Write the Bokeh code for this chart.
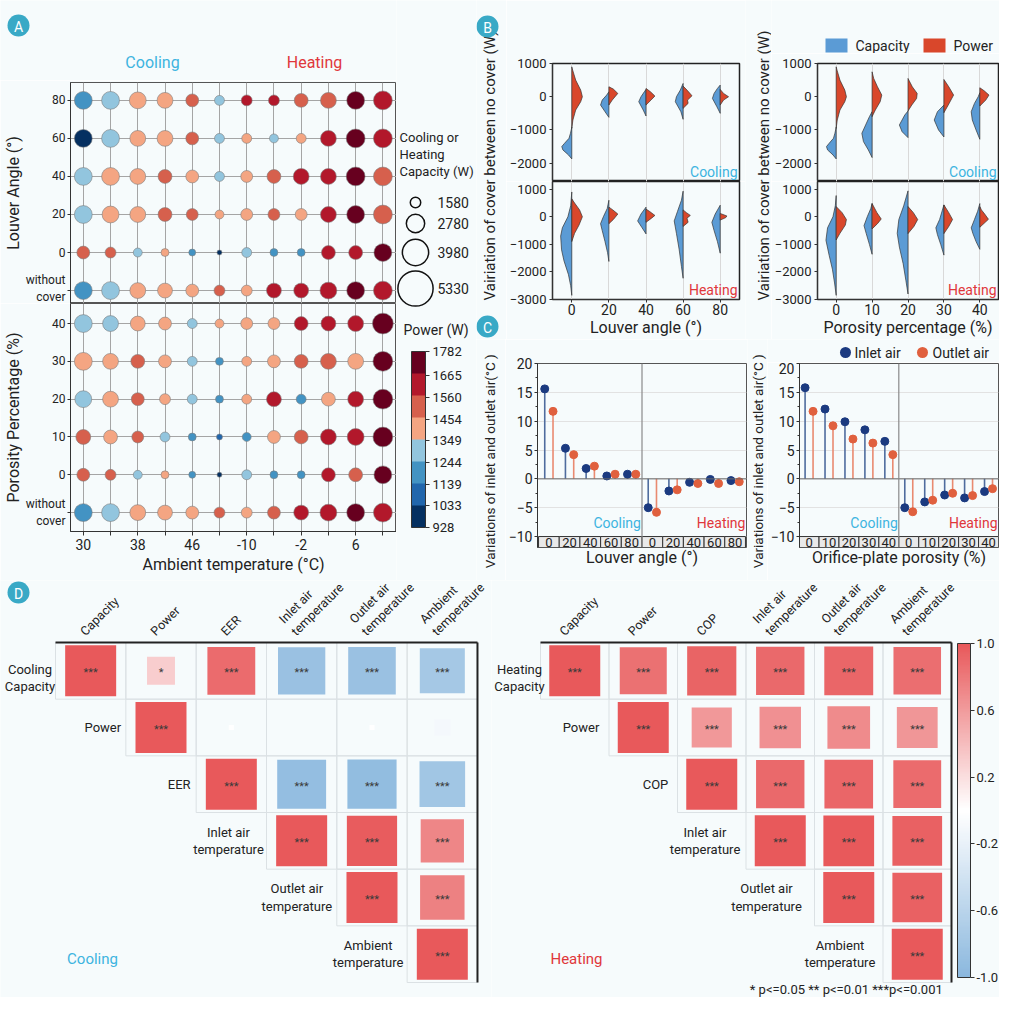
import math
from bokeh.plotting import figure
from bokeh.layouts import row, column
from bokeh.models import (Range1d, FixedTicker, ColorBar, LinearColorMapper,
                          LinearInterpolator, PrintfTickFormatter, Span, SingleIntervalTicker,
                          ColumnDataSource)
from bokeh.transform import transform
from bokeh.core.properties import value
from bokeh.embed import file_html
from bokeh.resources import INLINE

# ============================ DATA ============================
# ---- Panel A (bubble matrix) ----
ambient_ticks = ["30", "", "38", "", "46", "", "-10", "", "-2", "", "6", ""]
louver_rows = ["80", "60", "40", "20", "0", "without\ncover"]
porosity_rows = ["40", "30", "20", "10", "0", "without\ncover"]

louver_capacity = [
    [2700, 2700, 2550, 2400, 1950, 1500, 1650, 1650, 2100, 2400, 2700, 2850],
    [2700, 2700, 2400, 2400, 1950, 1500, 1500, 1350, 1500, 2400, 2850, 2850],
    [2700, 2700, 2400, 2100, 1950, 1500, 1800, 2100, 2400, 2400, 2850, 2850],
    [2700, 2550, 2400, 2100, 1800, 1350, 1800, 1800, 1800, 2400, 2700, 2850],
    [1950, 1650, 1350, 1200, 1050, 750, 1500, 1200, 1200, 2100, 2100, 2700],
    [2700, 2700, 2400, 2250, 1950, 1650, 1650, 2250, 2250, 2550, 2700, 2850],
]
louver_power = [
    [1185, 1290, 1395, 1410, 1500, 1300, 1620, 1615, 1510, 1495, 1715, 1605],
    [975, 1285, 1400, 1405, 1505, 1295, 1400, 1290, 1398, 1610, 1725, 1618],
    [1290, 1402, 1398, 1510, 1395, 1300, 1405, 1505, 1612, 1608, 1730, 1502],
    [1295, 1400, 1396, 1512, 1500, 1401, 1398, 1508, 1402, 1610, 1722, 1505],
    [1508, 1505, 1290, 1402, 1192, 985, 1292, 1188, 1190, 1615, 1610, 1718],
    [1188, 1292, 1398, 1404, 1400, 1506, 1395, 1612, 1610, 1615, 1720, 1608],
]
porosity_capacity = [
    [2700, 2400, 2250, 1950, 1500, 1350, 1800, 1800, 2100, 2250, 2400, 3150],
    [2700, 2400, 2100, 1950, 1500, 1200, 1500, 1950, 2100, 2400, 2400, 3000],
    [2550, 2400, 1950, 1650, 1500, 1200, 1500, 2250, 1500, 2100, 2400, 3000],
    [2250, 2100, 1800, 1500, 1200, 900, 1350, 1950, 2100, 2400, 2550, 3000],
    [1950, 1650, 1350, 1200, 1050, 750, 1500, 1200, 1200, 2100, 2100, 2700],
    [2700, 2700, 2400, 2250, 1950, 1650, 1650, 1950, 2250, 2550, 2700, 2850],
]
porosity_power = [
    [1295, 1290, 1400, 1402, 1296, 1398, 1404, 1400, 1610, 1612, 1608, 1722],
    [1400, 1405, 1505, 1398, 1294, 1190, 1402, 1400, 1508, 1506, 1398, 1725],
    [1292, 1403, 1505, 1401, 1296, 1188, 1399, 1612, 1190, 1401, 1610, 1728],
    [1507, 1400, 1504, 1298, 1192, 1086, 1190, 1402, 1506, 1612, 1615, 1730],
    [1508, 1505, 1290, 1402, 1192, 985, 1292, 1188, 1190, 1615, 1505, 1718],
    [1188, 1292, 1398, 1404, 1400, 1506, 1395, 1508, 1610, 1615, 1720, 1608],
]
size_legend_values = [1580, 2780, 3980, 5330]
power_ticks = [928, 1033, 1139, 1244, 1349, 1454, 1560, 1665, 1782]
power_palette = ["#053061", "#2166ac", "#4393c3", "#92c5de", "#f4a582", "#d6604d", "#b2182b", "#67001f"]

# ---- Panel B (split violins: (value, relative density) outline knots) ----
louver_labels = ["0", "20", "40", "60", "80"]
porosity_labels = ["0", "10", "20", "30", "40"]

louver_cool_cap = [
    [(-1870, 0), (-1750, 0.3), (-1600, 0.8), (-1500, 0.9), (-1400, 0.65), (-1250, 0.25), (-1100, 0.12), (-920, 0)],
    [(-620, 0), (-450, 0.35), (-250, 0.75), (-100, 0.6), (50, 0.2), (150, 0)],
    [(-580, 0), (-400, 0.25), (-150, 0.65), (0, 0.45), (150, 0.15), (220, 0)],
    [(-680, 0), (-450, 0.2), (-150, 0.7), (0, 0.6), (200, 0.25), (400, 0)],
    [(-500, 0), (-300, 0.3), (-50, 0.7), (100, 0.55), (250, 0.25), (350, 0)],
]
louver_cool_pow = [
    [(-950, 0), (-700, 0.1), (-400, 0.35), (-150, 0.8), (0, 0.95), (200, 0.8), (500, 0.35), (800, 0.08), (900, 0)],
    [(-250, 0), (-100, 0.3), (100, 0.8), (230, 0.4), (300, 0)],
    [(-250, 0), (-100, 0.45), (20, 0.8), (150, 0.4), (250, 0)],
    [(-350, 0), (-200, 0.45), (-100, 0.4), (30, 0.8), (200, 0.35), (320, 0)],
    [(-250, 0), (-100, 0.3), (0, 0.75), (100, 0.3), (220, 0)],
]
louver_heat_cap = [
    [(-2850, 0), (-2500, 0.1), (-2100, 0.3), (-1600, 0.7), (-1200, 0.92), (-700, 1.0), (-400, 0.85), (0, 0.35), (400, 0.1), (900, 0)],
    [(-1620, 0), (-1300, 0.12), (-900, 0.35), (-500, 0.6), (-250, 0.75), (0, 0.5), (300, 0.15), (600, 0)],
    [(-620, 0), (-400, 0.35), (-150, 0.75), (100, 0.45), (350, 0)],
    [(-2230, 0), (-1800, 0.15), (-1200, 0.35), (-600, 0.6), (-150, 0.8), (200, 0.5), (600, 0.15), (930, 0)],
    [(-1320, 0), (-900, 0.25), (-500, 0.55), (-200, 0.75), (100, 0.45), (420, 0)],
]
louver_heat_pow = [
    [(-900, 0), (-600, 0.25), (-300, 0.65), (0, 0.95), (250, 0.7), (500, 0.25), (650, 0)],
    [(-250, 0), (-100, 0.4), (100, 0.8), (250, 0.35), (350, 0)],
    [(-200, 0), (-50, 0.5), (50, 0.8), (200, 0.3), (280, 0)],
    [(-350, 0), (-200, 0.45), (-50, 0.35), (50, 0.65), (150, 0.3), (250, 0)],
    [(-120, 0), (-30, 0.5), (30, 0.6), (120, 0)],
]
por_cool_cap = [
    [(-1870, 0), (-1750, 0.3), (-1600, 0.8), (-1500, 0.9), (-1400, 0.65), (-1250, 0.25), (-1100, 0.12), (-920, 0)],
    [(-1830, 0), (-1600, 0.35), (-1350, 0.8), (-1100, 0.95), (-850, 0.6), (-600, 0.25), (-450, 0)],
    [(-1230, 0), (-1050, 0.55), (-850, 0.8), (-700, 0.55), (-550, 0.3), (-430, 0)],
    [(-1210, 0), (-1000, 0.5), (-700, 0.9), (-450, 0.6), (-250, 0)],
    [(-1280, 0), (-1000, 0.35), (-700, 0.7), (-450, 0.8), (-200, 0.5), (0, 0.15), (120, 0)],
]
por_cool_pow = [
    [(-950, 0), (-700, 0.1), (-400, 0.35), (-150, 0.8), (0, 0.95), (200, 0.8), (500, 0.35), (800, 0.08), (900, 0)],
    [(-600, 0), (-400, 0.3), (-150, 0.75), (50, 0.9), (300, 0.5), (550, 0.15), (750, 0)],
    [(-430, 0), (-250, 0.35), (-50, 0.8), (100, 0.85), (300, 0.4), (550, 0)],
    [(-480, 0), (-250, 0.4), (50, 0.9), (300, 0.45), (520, 0)],
    [(-280, 0), (-100, 0.55), (50, 0.85), (180, 0.4), (270, 0)],
]
por_heat_cap = [
    [(-2850, 0), (-2400, 0.15), (-1900, 0.35), (-1400, 0.65), (-850, 0.95), (-400, 0.8), (0, 0.3), (400, 0.08), (770, 0)],
    [(-1360, 0), (-1000, 0.25), (-600, 0.55), (-320, 0.75), (0, 0.45), (300, 0.12), (480, 0)],
    [(-2800, 0), (-2300, 0.2), (-1700, 0.45), (-1100, 0.8), (-600, 1.0), (-100, 0.85), (400, 0.4), (940, 0)],
    [(-1390, 0), (-1000, 0.3), (-650, 0.6), (-400, 0.75), (-100, 0.4), (430, 0)],
    [(-1180, 0), (-900, 0.35), (-600, 0.65), (-400, 0.8), (-100, 0.5), (200, 0.2), (480, 0)],
]
por_heat_pow = [
    [(-840, 0), (-600, 0.35), (-300, 0.85), (-100, 0.95), (150, 0.55), (370, 0)],
    [(-440, 0), (-250, 0.5), (-80, 0.85), (150, 0.45), (480, 0)],
    [(-610, 0), (-350, 0.55), (-100, 0.9), (150, 0.5), (370, 0)],
    [(-610, 0), (-350, 0.45), (-100, 0.8), (150, 0.45), (430, 0)],
    [(-380, 0), (-200, 0.5), (-90, 0.8), (100, 0.45), (250, 0.15), (370, 0)],
]
violin_legend = ["Capacity", "Power"]

# ---- Panel C (lollipops) ----
louver_strip = ["0", "20", "40", "60", "80", "0", "20", "40", "60", "80"]
porosity_strip = ["0", "10", "20", "30", "40", "0", "10", "20", "30", "40"]
louver_inlet = [15.6, 5.3, 1.8, 0.5, 0.8, -5.0, -2.1, -0.6, -0.1, -0.3]
louver_outlet = [11.7, 4.2, 2.2, 0.8, 0.8, -5.8, -1.9, -0.8, -0.8, -0.5]
porosity_inlet = [15.8, 12.1, 9.9, 8.5, 6.5, -5.0, -4.0, -2.8, -3.3, -2.2]
porosity_outlet = [11.7, 9.2, 6.9, 6.2, 4.2, -5.7, -3.7, -2.5, -2.9, -1.7]
stem_legend = ["Inlet air", "Outlet air"]

# ---- Panel D (correlation matrices, upper triangles) ----
cool_cols = ["Capacity", "Power", "EER", "Inlet air\ntemperature", "Outlet air\ntemperature", "Ambient\ntemperature"]
cool_rows = ["Cooling\nCapacity", "Power", "EER", "Inlet air\ntemperature", "Outlet air\ntemperature", "Ambient\ntemperature"]
heat_cols = ["Capacity", "Power", "COP", "Inlet air\ntemperature", "Outlet air\ntemperature", "Ambient\ntemperature"]
heat_rows = ["Heating\nCapacity", "Power", "COP", "Inlet air\ntemperature", "Outlet air\ntemperature", "Ambient\ntemperature"]
cool_r = [[1.0, 0.30, 0.88, -0.86, -0.87, -0.78],
          [1.0, -0.01, 0.0, 0.01, -0.10],
          [1.0, -0.92, -0.93, -0.80],
          [1.0, 0.97, 0.72],
          [1.0, 0.76],
          [1.0]]
cool_sig = [["***", "*", "***", "***", "***", "***"],
            ["***", "", "", "", ""],
            ["***", "***", "***", "***"],
            ["***", "***", "***"],
            ["***", "***"],
            ["***"]]
heat_r = [[1.0, 0.85, 0.93, 0.90, 0.92, 0.87],
          [1.0, 0.62, 0.66, 0.70, 0.64],
          [1.0, 0.90, 0.91, 0.88],
          [1.0, 0.99, 0.95],
          [1.0, 0.95],
          [1.0]]
heat_sig = [["***"] * 6, ["***"] * 5, ["***"] * 4, ["***"] * 3, ["***"] * 2, ["***"]]
corr_ticks = [-1.0, -0.6, -0.2, 0.2, 0.6, 1.0]

# ============================ STYLE ============================
FONT = "Roboto"
BG = "#f6fbfc"
CYAN = "#3db4e0"
REDT = "#e0373b"
BADGE = "#39a9c6"
CAP_C = "#5b9bd5"
POW_C = "#d9472b"
INLET_DOT, INLET_STEM = "#1b3a80", "#4f6c9e"
OUTLET_DOT, OUTLET_STEM = "#e0603e", "#e98a70"

SIZE_MAP = LinearInterpolator(x=[0, 5330], y=[0, 35.2])
POWER_MAP = LinearColorMapper(palette=power_palette, low=power_ticks[0], high=power_ticks[-1])


def _mix(c1, c2, t):
    return "#%02x%02x%02x" % tuple(int(round(a + (b - a) * t)) for a, b in zip(c1, c2))


_blue, _white, _red = (139, 184, 222), (255, 255, 255), (232, 89, 91)
corr_palette = [_mix(_blue, _white, i / 63) for i in range(64)] + [_mix(_white, _red, i / 63) for i in range(64)]
CORR_MAP = LinearColorMapper(palette=corr_palette, low=-1, high=1)


def make_fig(w, h, xr, yr, l=0, r=0, t=0, b=0, axes=True):
    kw = {} if axes else dict(x_axis_location=None, y_axis_location=None)
    p = figure(width=w, height=h, x_range=xr, y_range=yr, output_backend="svg",
               toolbar_location=None, min_border=0, min_border_left=l, min_border_right=r,
               min_border_top=t, min_border_bottom=b, background_fill_color=BG,
               border_fill_color=BG, **kw)
    if not axes:
        p.grid.visible = False
        p.outline_line_color = None
    return p


def canvas(w, h):
    return make_fig(w, h, Range1d(0, w), Range1d(h, 0), axes=False)


def iso(p):
    # wrap a single plot so that siblings do not get their frames aligned
    return column(p)


def txt(p, x, y, s, size=14, color="#222222", align="center", baseline="middle", angle=0.0, **kw):
    p.text(x=[x], y=[y], text=[s], text_font=value(FONT), text_font_size=f"{size}px",
           text_color=color, text_align=align, text_baseline=baseline, angle=angle, **kw)


def badge(p, x, y, letter):
    p.scatter([x], [y], size=22, marker="circle", fill_color=BADGE, line_color=None)
    txt(p, x, y, letter, 14, "white", y_offset=1)


def style_axis(ax, tick="14px", lab="16px"):
    ax.major_label_text_font = FONT
    ax.major_label_text_font_size = tick
    ax.major_label_text_color = "#222222"
    ax.axis_label_text_font = FONT
    ax.axis_label_text_font_size = lab
    ax.axis_label_text_font_style = "normal"
    ax.axis_label_text_color = "#222222"
    ax.axis_line_color = "#333333"
    ax.major_tick_line_color = "#333333"
    ax.minor_tick_line_color = None
    ax.major_tick_in = 0
    ax.major_tick_out = 3
    ax.major_label_standoff = 3
    ax.axis_label_standoff = 2


# ============================ PANEL A ============================
def bubble_data(caps, pows):
    xs, ys, cs, ps = [], [], [], []
    for ri, (cr, pr) in enumerate(zip(caps, pows)):
        for ci, (c, pw) in enumerate(zip(cr, pr)):
            xs.append(ci); ys.append(5 - ri); cs.append(c); ps.append(pw)
    return ColumnDataSource(dict(x=xs, y=ys, cap=cs, power=ps))


hdrA = canvas(396, 80)
badge(hdrA, 18, 25, "A")
txt(hdrA, 152, 62, "Cooling", 16, CYAN)
txt(hdrA, 314, 62, "Heating", 16, REDT)

XA = Range1d(-0.47, 11.5)


def bubble_fig(h, yr, rows, caps, pows, t, b, bottom_axis, ylabel):
    p = make_fig(396, h, XA, yr, l=66, t=t, b=b)
    p.yaxis.ticker = FixedTicker(ticks=list(range(6)))
    p.yaxis.major_label_overrides = {5 - i: s for i, s in enumerate(rows)}
    style_axis(p.yaxis, "12px", "16px")
    p.yaxis.major_label_standoff = 2
    p.yaxis.axis_label_standoff = 0
    p.yaxis.axis_label = ylabel
    p.xgrid.ticker = FixedTicker(ticks=list(range(12)))
    p.ygrid.ticker = FixedTicker(ticks=list(range(6)))
    p.grid.grid_line_color = "#a5a5a5"
    p.outline_line_color = "#555555"
    if bottom_axis:
        p.xaxis.ticker = FixedTicker(ticks=list(range(12)))
        p.xaxis.major_label_overrides = {i: s for i, s in enumerate(ambient_ticks)}
        p.xaxis.axis_label = "Ambient temperature (°C)"
        style_axis(p.xaxis, "14px", "16px")
        p.xaxis.major_tick_out = 4
    else:
        p.xaxis.visible = False
    p.scatter("x", "y", source=bubble_data(caps, pows), size=transform("cap", SIZE_MAP),
              fill_color=transform("power", POWER_MAP), line_color="#7d7d7d", line_width=0.6)
    return p


pA1 = bubble_fig(223, Range1d(-0.34, 5.47), louver_rows, louver_capacity, louver_power, 2, 0, False,
                 "Louver Angle (°)")
pA2 = bubble_fig(277, Range1d(-0.5, 5.53), porosity_rows, porosity_capacity, porosity_power, 0, 49, True,
                 "Porosity Percentage (%)")

# size legend + colour bar (x from 396 to 476)
legA = canvas(80, 580)
txt(legA, 3, 129, "Cooling or\nHeating\nCapacity (W)", 13, align="left", baseline="top", text_line_height=1.15)
leg_y = [202, 223, 252, 288]
legA.scatter("x", "y", size=transform("cap", SIZE_MAP), fill_color=None,
             line_color="#111111", line_width=1.5,
             source=ColumnDataSource(dict(x=[19] * 4, y=leg_y, cap=size_legend_values)))
legA.text(x=[41] * 4, y=leg_y, text=[str(v) for v in size_legend_values], text_font=value(FONT),
          text_font_size="14px", text_color="#222222", text_align="left", text_baseline="middle")
txt(legA, 7, 329, "Power (W)", 14, align="left")
cbA = ColorBar(color_mapper=POWER_MAP, ticker=FixedTicker(ticks=power_ticks), width=14, height=176,
               location=(15, 53), padding=0, margin=0, orientation="vertical",
               major_label_text_font=FONT, major_label_text_font_size="13px",
               major_label_text_color="#222222", major_tick_in=0, major_tick_out=4,
               major_tick_line_color="#333333", bar_line_color="#333333", label_standoff=3,
               background_fill_alpha=0, border_line_color=None)
legA.add_layout(cbA, "center")

# ============================ PANEL B ============================
VW = 0.3


def add_violins(p, cap_list, pow_list):
    cx, cy, px_, py_ = [], [], [], []
    for i, (cap, pw) in enumerate(zip(cap_list, pow_list)):
        cx.append([i - d * VW for v, d in cap]); cy.append([v for v, d in cap])
        px_.append([i + d * VW for v, d in pw]); py_.append([v for v, d in pw])
    p.patches(cx, cy, fill_color=CAP_C, line_color="#333333", line_width=0.7)
    p.patches(px_, py_, fill_color=POW_C, line_color="#333333", line_width=0.7)


def violin_fig(w, h, xr, yr, ticks, l, r, t, b, labels=None, xlabel=None):
    p = make_fig(w, h, xr, yr, l=l, r=r, t=t, b=b)
    p.yaxis.ticker = FixedTicker(ticks=ticks)
    style_axis(p.yaxis, "13px")
    p.xgrid.ticker = FixedTicker(ticks=list(range(5)))
    p.xgrid.grid_line_color = "#d9d9d9"
    p.ygrid.visible = False
    p.outline_line_color = "#222222"
    p.outline_line_width = 1.5
    if labels is None:
        p.xaxis.visible = False
    else:
        p.xaxis.ticker = FixedTicker(ticks=list(range(5)))
        p.xaxis.major_label_overrides = {i: s for i, s in enumerate(labels)}
        p.xaxis.axis_label = xlabel
        style_axis(p.xaxis, "14px", "16px")
        p.xaxis.major_label_standoff = 1
        p.xaxis.axis_label_standoff = 0
    return p


XB1 = Range1d(-0.52, 4.52)
XB2 = Range1d(-0.52, 4.52)
pB1t = violin_fig(239, 181, XB1, Range1d(-2550, 1000), [-2000, -1000, 0, 1000], 41, 6, 63, 0)
pB1b = violin_fig(239, 158, XB1, Range1d(-3000, 1280), [-3000, -2000, -1000, 0, 1000], 41, 6, 0, 40,
                  louver_labels, "Louver angle (°)")
pB2t = violin_fig(228, 128, XB2, Range1d(-2550, 1000), [-2000, -1000, 0, 1000], 42, 1, 10, 0)
pB2b = violin_fig(228, 158, XB2, Range1d(-3000, 1280), [-3000, -2000, -1000, 0, 1000], 42, 1, 0, 40,
                  porosity_labels, "Porosity percentage (%)")
add_violins(pB1t, louver_cool_cap, louver_cool_pow)
add_violins(pB1b, louver_heat_cap, louver_heat_pow)
add_violins(pB2t, por_cool_cap, por_cool_pow)
add_violins(pB2b, por_heat_cap, por_heat_pow)
for p in (pB1t, pB2t):
    txt(p, 4.52, -2550, "Cooling", 14, CYAN, align="right", baseline="bottom", x_offset=-2, y_offset=-2)
for p in (pB1b, pB2b):
    txt(p, 4.52, -3000, "Heating", 14, REDT, align="right", baseline="bottom", x_offset=-2, y_offset=-2)

# legend strip above the right-hand violins (x 771..999, y 0..53)
hdrB2 = canvas(228, 53)
hdrB2.rect(x=[65, 163], y=[45, 45], width=22, height=14, width_units="screen", height_units="screen",
           fill_color=[CAP_C, POW_C], line_color=None)
hdrB2.text(x=[84, 182], y=[45, 45], text=violin_legend, text_font=value(FONT), text_font_size="14px",
           text_color="#222222", text_align="left", text_baseline="middle")

yB1 = canvas(30, 339)
txt(yB1, 13, 165, "Vairiation of cover between no cover (W)", 15, angle=math.pi / 2)
badge(yB1, 11, 26, "B")
badge(yB1, 11, 326, "C")
yB2 = canvas(26, 339)
txt(yB2, 18, 165, "Vairiation of cover between no cover (W)", 15, angle=math.pi / 2)

# ============================ PANEL C ============================
def stem_fig(w, h, t, xr, inlet, outlet, strip, xlabel):
    p = make_fig(w, h, xr, Range1d(-11.9, 20), l=26, r=1, t=t, b=33)
    p.yaxis.ticker = SingleIntervalTicker(interval=5, num_minor_ticks=2)
    style_axis(p.yaxis, "14px")
    p.yaxis.major_label_standoff = 2
    p.yaxis.minor_tick_line_color = "#333333"
    p.yaxis.minor_tick_in = 0
    p.yaxis.minor_tick_out = 2
    p.ygrid.grid_line_color = "#e2e2e2"
    p.xgrid.visible = False
    p.outline_line_color = "#555555"
    style_axis(p.xaxis, "14px", "16px")
    p.xaxis.ticker = FixedTicker(ticks=[])
    p.xaxis.axis_line_color = None
    p.xaxis.major_tick_out = 0
    p.xaxis.major_label_standoff = 0
    p.xaxis.axis_label_standoff = 0
    p.xaxis.axis_label = xlabel
    idx = list(range(len(inlet)))
    p.add_layout(Span(location=0, dimension="width", line_color="#666666", line_width=1))
    p.add_layout(Span(location=4.5, dimension="height", line_color="#8a8a8a", line_width=1.2))
    xi = [i - 0.2 for i in idx]
    xo = [i + 0.2 for i in idx]
    p.segment(x0=xi, y0=[0] * len(idx), x1=xi, y1=inlet, line_color=INLET_STEM, line_width=1.6)
    p.segment(x0=xo, y0=[0] * len(idx), x1=xo, y1=outlet, line_color=OUTLET_STEM, line_width=1.6)
    p.scatter(xi, inlet, size=8, marker="circle", fill_color=INLET_DOT, line_color=INLET_DOT)
    p.scatter(xo, outlet, size=8, marker="circle", fill_color=OUTLET_DOT, line_color=OUTLET_DOT)
    p.rect(x=idx, y=[-10.95] * len(idx), width=1, height=1.9, fill_color="#e9e9e9",
           line_color="#333333", line_width=1)
    p.text(x=idx, y=[-10.95] * len(idx), text=strip, text_font=value(FONT), text_font_size="13px",
           text_color="#222222", text_align="center", text_baseline="middle")
    txt(p, 4.45, -7.7, "Cooling", 14, CYAN, align="right")
    txt(p, xr.end - 0.05, -7.7, "Heating", 14, REDT, align="right")
    return p


pC1 = stem_fig(242, 241, 24, Range1d(-0.55, 9.55), louver_inlet, louver_outlet, louver_strip,
               "Louver angle (°)")
pC2 = stem_fig(232, 218, 1, Range1d(-0.48, 9.5), porosity_inlet, porosity_outlet, porosity_strip,
               "Orifice-plate porosity (%)")

hdrC2 = canvas(232, 23)
hdrC2.scatter([78, 155], [13, 13], size=11, marker="circle", fill_color=[INLET_DOT, OUTLET_DOT],
              line_color=None)
hdrC2.text(x=[87, 165], y=[13, 13], text=stem_legend, text_font=value(FONT), text_font_size="14px",
           text_color="#222222", text_align="left", text_baseline="middle")

yC1 = canvas(29, 241)
txt(yC1, 13, 120, "Variations of inlet  and outlet air(°C )", 13.5, angle=math.pi / 2)
yC2 = canvas(20, 241)
txt(yC2, 10, 120, "Variations of inlet  and outlet air(°C )", 13.5, angle=math.pi / 2)

# ============================ PANEL D ============================
def corr_fig(w, left_px, x0px, cellw, cols, rows, rvals, sig, row_off, col_xoff, mode, mode_color, mode_px):
    def dx(px):
        return (px - x0px) / cellw

    def dy(py):
        return (py - 642) / 56.67

    p = make_fig(w, 417, Range1d(dx(left_px), dx(left_px + w)), Range1d(dy(997), dy(580)), axes=False)
    cx, cy, rr, side, st = [], [], [], [], []
    for ri_, rowv in enumerate(rvals):
        for k, v in enumerate(rowv):
            c = ri_ + k
            cx.append(c + 0.5); cy.append(ri_ + 0.5); rr.append(v)
            side.append(51 * math.sqrt(abs(v))); st.append(sig[ri_][k])
    p.rect(x=cx, y=cy, width=1, height=1, fill_color=None, line_color="#dbe1e4", line_width=1)
    src = ColumnDataSource(dict(x=cx, y=cy, r=rr, side=side, sig=st))
    p.scatter("x", "y", source=src, marker="square", size="side",
              fill_color=transform("r", CORR_MAP), line_color=None)
    p.text("x", "y", text="sig", source=src, text_font=value(FONT), text_font_size="11px",
           text_color="#3a3a3a", text_align="center", text_baseline="middle", y_offset=2)
    p.line([0, 6], [0, 0], line_color="#222222", line_width=2)
    p.line([6, 6], [0, 6], line_color="#222222", line_width=2)
    p.text(x=[c + 0.5 for c in range(6)], y=[0] * 6, text=cols, text_font=value(FONT),
           text_font_size="12.5px", text_color="#222222", text_align="left", text_baseline="bottom",
           angle=math.pi / 4, x_offset=col_xoff, y_offset=-4, text_line_height=1.15)
    p.text(x=list(range(6)), y=[r + 0.5 for r in range(6)], text=rows, text_font=value(FONT),
           text_font_size="13px", text_color="#222222", text_align="center", text_baseline="middle",
           x_offset=row_off, y_offset=[7, 0, 0, 0, 0, 0], text_line_height=1.15)
    txt(p, dx(mode_px), dy(958), mode, 15, mode_color)
    return p, dx, dy


pD1, dx1, dy1 = corr_fig(491, 0, 55, 70.33, cool_cols, cool_rows, cool_r, cool_sig,
                         [-25.5, -23, -17, -38, -40, -39], -3, "Cooling", CYAN, 92)
badge(pD1, dx1(18), dy1(592), "D")
pD2, dx2, dy2 = corr_fig(508, 491, 540, 68.5, heat_cols, heat_rows, heat_r, heat_sig,
                         [-21, -28, -22, -41, -48, -43], -8, "Heating", REDT, 576)
txt(pD2, dx2(849), dy2(989), "* p<=0.05  ** p<=0.01  ***p<=0.001", 13)
cbD = ColorBar(color_mapper=CORR_MAP, ticker=FixedTicker(ticks=corr_ticks),
               formatter=PrintfTickFormatter(format="%.1f"), width=13, height=334,
               location=(466, 20), padding=0, margin=0, orientation="vertical",
               major_label_text_font=FONT, major_label_text_font_size="13px",
               major_label_text_color="#222222", major_tick_in=0, major_tick_out=4,
               major_tick_line_color="#333333", bar_line_color="#333333", label_standoff=2,
               background_fill_alpha=0, border_line_color=None)
pD2.add_layout(cbD, "center")

# ============================ LAYOUT ============================
colA = column(iso(hdrA), iso(pA1), iso(pA2))
colB1 = column(iso(pB1t), iso(pB1b))
colB2 = column(iso(hdrB2), iso(pB2t), iso(pB2b))
rowB = row(iso(yB1), colB1, iso(yB2), colB2)
colC2 = column(iso(hdrC2), iso(pC2))
rowC = row(iso(yC1), iso(pC1), iso(yC2), colC2)
top = row(colA, iso(legA), column(rowB, rowC))
layout = column(top, row(iso(pD1), iso(pD2)))

open("out.html", "w").write(file_html(layout, INLINE))
